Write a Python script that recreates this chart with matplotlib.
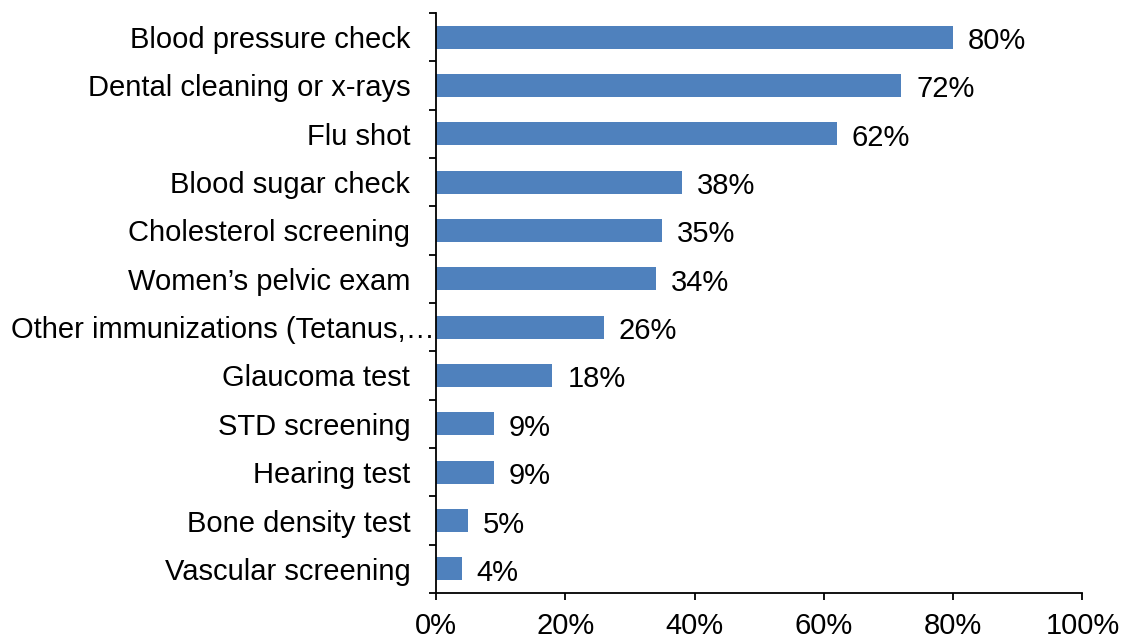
import matplotlib
matplotlib.use("Agg")
import matplotlib.pyplot as plt
from matplotlib.ticker import FixedLocator, NullFormatter, PercentFormatter
from matplotlib.transforms import ScaledTranslation

plt.rcParams["font.family"] = ["Liberation Sans", "DejaVu Sans"]

categories = [
    "Blood pressure check",
    "Dental cleaning or x-rays",
    "Flu shot",
    "Blood sugar check",
    "Cholesterol screening",
    "Women\u2019s pelvic exam",
    "Other immunizations (Tetanus,\u2026",
    "Glaucoma test",
    "STD screening",
    "Hearing test",
    "Bone density test",
    "Vascular screening",
]
values = [80, 72, 62, 38, 35, 34, 26, 18, 9, 9, 5, 4]
x_ticks = [0, 20, 40, 60, 80, 100]

FS = 21

fig = plt.figure(figsize=(11.29, 6.42), dpi=100)
ax = fig.add_axes([0.3862, 0.0763, 0.5726, 0.9035])

n = len(categories)
pos = list(range(n))[::-1]
ax.barh(pos, values, height=0.48, color="#4F81BD", zorder=2)

# value labels sit a little below the bar centre line
label_shift = ScaledTranslation(0, -4 / 100, fig.dpi_scale_trans)
for p, v in zip(pos, values):
    ax.text(v + 2.3, p, f"{v}%", va="center", ha="left", fontsize=FS,
            transform=ax.transData + label_shift)

ax.set_xlim(0, 100)
ax.set_ylim(-0.5, n - 0.5)
ax.set_xticks(x_ticks)
ax.xaxis.set_major_formatter(PercentFormatter(decimals=0))

# category labels centered in each band, tick marks on the band boundaries
ax.set_yticks(pos)
ax.set_yticklabels(categories)
ax.yaxis.set_minor_locator(FixedLocator([i - 0.5 for i in range(n + 1)]))
ax.yaxis.set_minor_formatter(NullFormatter())
ax.tick_params(axis="y", which="major", length=0, pad=18.5, labelsize=FS)
ax.tick_params(axis="y", which="minor", length=5, width=1.3, direction="out")
ax.tick_params(axis="x", which="major", length=5, width=1.3, direction="out",
               labelsize=FS, pad=9)

# the truncated label runs past the others toward the axis
for lbl, name in zip(ax.get_yticklabels(), categories):
    if name.endswith("\u2026"):
        lbl.set_transform(lbl.get_transform() + ScaledTranslation(24 / 100, 0, fig.dpi_scale_trans))

for s in ["top", "right"]:
    ax.spines[s].set_visible(False)
for s in ["left", "bottom"]:
    ax.spines[s].set_linewidth(1.3)
    ax.spines[s].set_color("black")

fig.savefig("out.png", dpi=100)
